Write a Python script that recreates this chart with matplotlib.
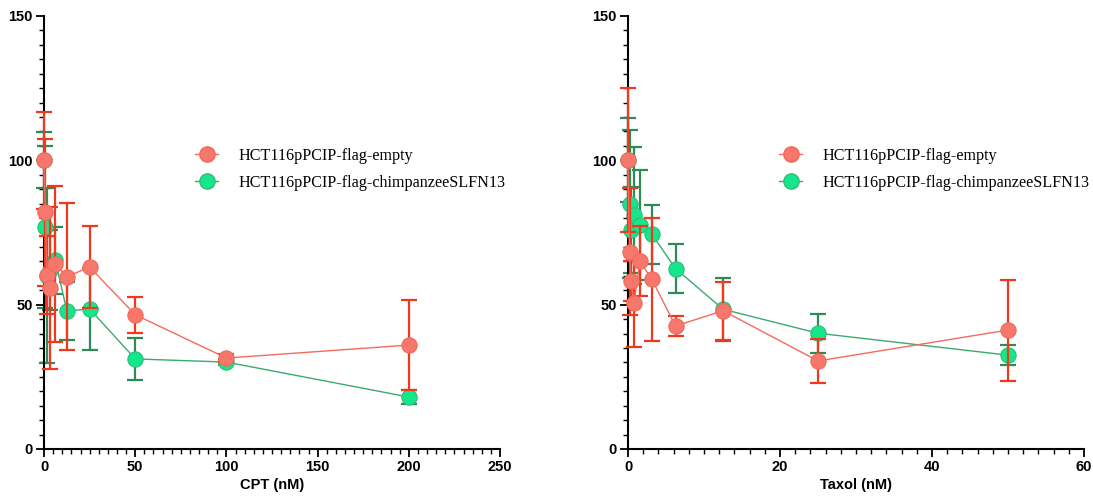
import numpy as np
import matplotlib
matplotlib.use("Agg")
import matplotlib.pyplot as plt
from matplotlib.lines import Line2D
from matplotlib.ticker import MultipleLocator

# CPT panel (left)
cpt_conc = [0, 0.78, 1.56, 3.125, 6.25, 12.5, 25, 50, 100, 200]
cpt_empty = [100, 82, 60.4, 55.7, 64.2, 59.7, 63.0, 46.5, 31.5, 36.0]
cpt_empty_err = [16.7, 25.4, 13.5, 28.0, 27.0, 25.4, 14.2, 6.3, 1.5, 15.6]
cpt_chimp = [100, 76.8, 60.0, 62.0, 65.3, 47.8, 48.5, 31.2, 30.1, 18.0]
cpt_chimp_err = [9.7, 28.0, 30.3, 14.0, 11.5, 10.0, 14.2, 7.3, 1.0, 2.4]

# Taxol panel (right)
taxol_conc = [0, 0.195, 0.39, 0.78, 1.56, 3.125, 6.25, 12.5, 25, 50]
taxol_empty = [100, 68.3, 58.2, 50.5, 65.1, 58.8, 42.6, 47.9, 30.5, 41.2]
taxol_empty_err = [25.0, 22.0, 7.0, 15.1, 12.2, 21.3, 3.3, 10.0, 7.6, 17.5]
taxol_chimp = [100, 84.9, 75.9, 81.0, 77.6, 74.4, 62.5, 48.4, 40.1, 32.5]
taxol_chimp_err = [14.5, 25.6, 15.0, 23.7, 19.0, 10.2, 8.5, 11.0, 6.8, 3.5]

labels = ["HCT116pPCIP-flag-empty", "HCT116pPCIP-flag-chimpanzeeSLFN13"]

red_fill = "#F8776C"
red_edge = "#F06A5A"
red_err = "#F2381C"
green_fill = "#14E68C"
green_edge = "#2DBE74"
green_err = "#2E8B57"

fig = plt.figure(figsize=(10.93, 4.96), dpi=100)
ax1 = fig.add_axes([0.0403, 0.0948, 0.4172, 0.873])
ax2 = fig.add_axes([0.5746, 0.0948, 0.4172, 0.873])


def draw(ax, x, y_e, e_e, y_c, e_c):
    ax.errorbar(x, y_c, yerr=e_c, fmt="none", ecolor=green_err, elinewidth=1.6,
                capsize=6, capthick=1.6, clip_on=False, zorder=2)
    ax.plot(x, y_c, "-", color="#3BA970", lw=1.0, zorder=2, clip_on=False)
    ax.plot(x, y_c, "o", ms=11, mfc=green_fill, mec=green_edge, mew=0.8,
            zorder=3, clip_on=False)
    ax.errorbar(x, y_e, yerr=e_e, fmt="none", ecolor=red_err, elinewidth=1.6,
                capsize=6, capthick=1.6, clip_on=False, zorder=4)
    ax.plot(x, y_e, "-", color="#F46A5C", lw=1.0, zorder=4, clip_on=False)
    ax.plot(x, y_e, "o", ms=11, mfc=red_fill, mec=red_edge, mew=0.8,
            zorder=5, clip_on=False)


draw(ax1, cpt_conc, cpt_empty, cpt_empty_err, cpt_chimp, cpt_chimp_err)
draw(ax2, taxol_conc, taxol_empty, taxol_empty_err, taxol_chimp, taxol_chimp_err)

for ax, xmax, xmaj, xmin, xlabel in [(ax1, 250, 50, 5, "CPT (nM)"),
                                     (ax2, 60, 20, 2, "Taxol (nM)")]:
    ax.set_xlim(0, xmax)
    ax.set_ylim(0, 150)
    ax.xaxis.set_major_locator(MultipleLocator(xmaj))
    ax.xaxis.set_minor_locator(MultipleLocator(xmin))
    ax.yaxis.set_major_locator(MultipleLocator(50))
    ax.yaxis.set_minor_locator(MultipleLocator(5))
    for s in ["top", "right"]:
        ax.spines[s].set_visible(False)
    for s in ["left", "bottom"]:
        ax.spines[s].set_linewidth(1.5)
    ax.tick_params(which="major", length=6, width=1.3, labelsize=10.5, pad=2)
    ax.tick_params(which="minor", length=3.5, width=1.0)
    for t in ax.get_xticklabels() + ax.get_yticklabels():
        t.set_fontweight("bold")
        t.set_family("Liberation Sans")
    ax.set_xlabel(xlabel, fontsize=10.5, fontweight="bold", family="Liberation Sans",
                  labelpad=3)

    handles = [
        Line2D([], [], color="#F46A5C", lw=1.0, marker="o", ms=11,
               mfc=red_fill, mec=red_edge),
        Line2D([], [], color="#3BA970", lw=1.0, marker="o", ms=11,
               mfc=green_fill, mec=green_edge),
    ]
    ax.legend(handles, labels, loc="upper left", bbox_to_anchor=(0.332, 0.695),
              frameon=False, borderpad=0, borderaxespad=0, handlelength=1.4,
              handletextpad=1.25, labelspacing=0.65,
              prop={"family": "Liberation Serif", "size": 11.6})

fig.savefig("out.png", dpi=100)
